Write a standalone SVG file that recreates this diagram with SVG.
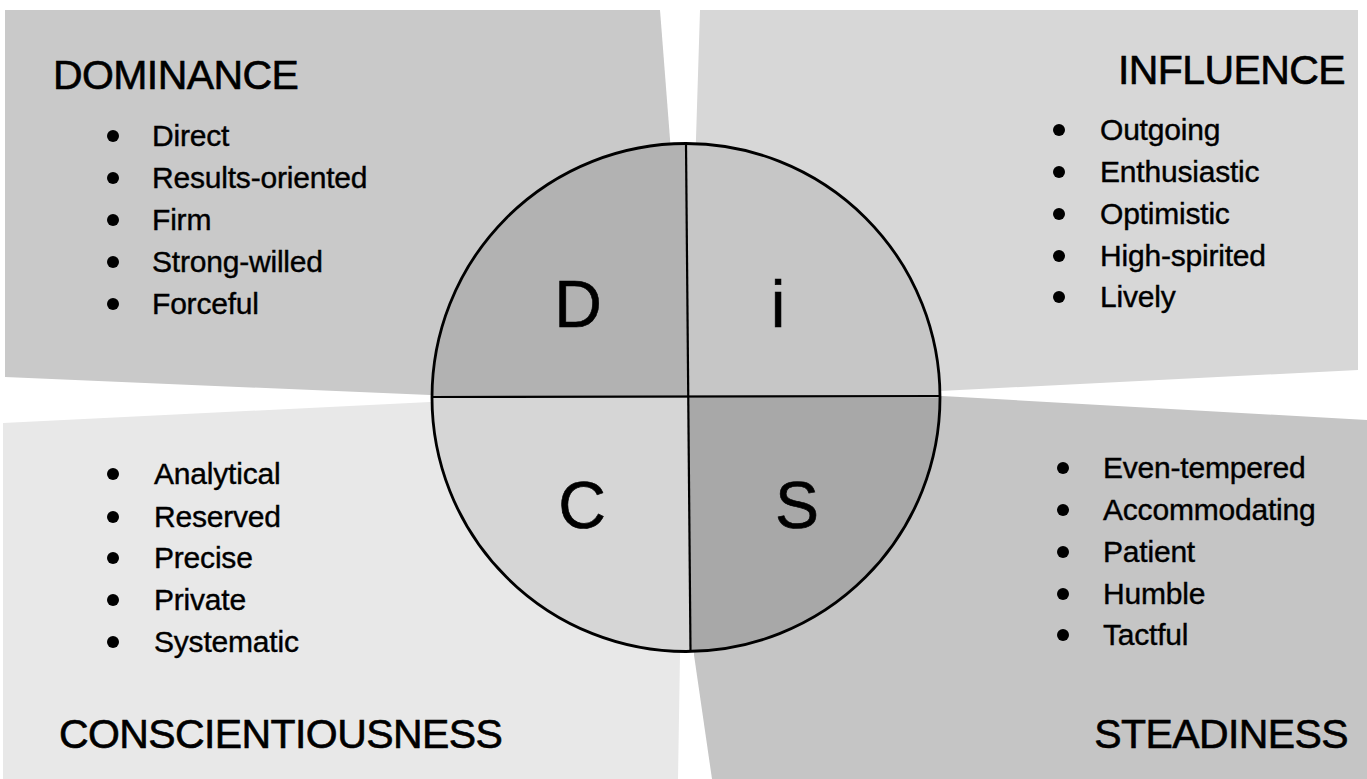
<svg xmlns="http://www.w3.org/2000/svg" width="1367" height="779" viewBox="0 0 1367 779">
<style>
  text { font-family: "Liberation Sans", Arial, Helvetica, sans-serif; fill: #000; stroke: #000; stroke-width: 0.4px; }
  .title { font-size: 41px; letter-spacing: -0.6px; stroke-width: 0.6px; }
  .item { font-size: 30px; letter-spacing: -0.2px; }
  .big { font-size: 66px; text-anchor: middle; stroke-width: 0.6px; }
  .dot { fill: #000; }
  .rim { fill: none; stroke: #000; stroke-width: 2.8; }
  .div { stroke: #000; stroke-width: 2.2; fill: none; }
</style>
<defs>
  <clipPath id="circ"><circle cx="686" cy="397.5" r="254"/></clipPath>
</defs>
<rect width="1367" height="779" fill="#ffffff"/>

<g id="bg-dominance"><polygon points="5,10 660,10 690,397 430,395 5,377" fill="#c9c9c9"/></g>
<g id="bg-influence"><polygon points="700,10 1358,10 1358,370 940,391 688,397" fill="#d7d7d7"/></g>
<g id="bg-conscientiousness"><polygon points="3,423 430,402 688,397 680,655 678,779 3,779" fill="#e8e8e8"/></g>
<g id="bg-steadiness"><polygon points="690,397 942,396 1367,420 1367,779 712,779 694,655" fill="#c5c5c5"/></g>

<g id="disc-circle">
  <g clip-path="url(#circ)">
    <polygon id="q-d" points="420,130 686,130 688,397.5 420,397.5" fill="#b2b2b2"/>
    <polygon id="q-i" points="686,130 960,130 960,397.5 688,397.5" fill="#c6c6c6"/>
    <polygon id="q-c" points="420,397.5 688,397.5 691,665 420,665" fill="#d6d6d6"/>
    <polygon id="q-s" points="688,397.5 960,397.5 960,665 691,665" fill="#a8a8a8"/>
  </g>
  <circle class="rim" cx="686" cy="397.5" r="254"/>
</g>

<g id="connectors">
  <line class="div" x1="686" y1="143.5" x2="690.5" y2="651.5"/>
  <line class="div" x1="432" y1="397" x2="940" y2="396"/>
</g>

<g id="letter-d"><text class="big" x="578" y="327">D</text></g>
<g id="letter-i"><text class="big" x="778" y="327">i</text></g>
<g id="letter-c"><text class="big" x="582" y="528">C</text></g>
<g id="letter-s"><text class="big" x="797" y="528">S</text></g>

<g id="dominance">
  <text class="title" x="53" y="89">DOMINANCE</text>
  <circle class="dot" cx="113" cy="136" r="6"/><text class="item" x="152" y="146">Direct</text>
  <circle class="dot" cx="113" cy="178" r="6"/><text class="item" x="152" y="188">Results-oriented</text>
  <circle class="dot" cx="113" cy="220" r="6"/><text class="item" x="152" y="230">Firm</text>
  <circle class="dot" cx="113" cy="262" r="6"/><text class="item" x="152" y="272">Strong-willed</text>
  <circle class="dot" cx="113" cy="304" r="6"/><text class="item" x="152" y="314">Forceful</text>
</g>

<g id="influence">
  <text class="title" x="1345" y="84" text-anchor="end">INFLUENCE</text>
  <circle class="dot" cx="1059" cy="130" r="6"/><text class="item" x="1100" y="140">Outgoing</text>
  <circle class="dot" cx="1059" cy="172" r="6"/><text class="item" x="1100" y="182">Enthusiastic</text>
  <circle class="dot" cx="1059" cy="214" r="6"/><text class="item" x="1100" y="224">Optimistic</text>
  <circle class="dot" cx="1059" cy="256" r="6"/><text class="item" x="1100" y="266">High-spirited</text>
  <circle class="dot" cx="1059" cy="297" r="6"/><text class="item" x="1100" y="307">Lively</text>
</g>

<g id="conscientiousness">
  <circle class="dot" cx="113" cy="474" r="6"/><text class="item" x="154" y="484">Analytical</text>
  <circle class="dot" cx="113" cy="517" r="6"/><text class="item" x="154" y="527">Reserved</text>
  <circle class="dot" cx="113" cy="558" r="6"/><text class="item" x="154" y="568">Precise</text>
  <circle class="dot" cx="113" cy="600" r="6"/><text class="item" x="154" y="610">Private</text>
  <circle class="dot" cx="113" cy="642" r="6"/><text class="item" x="154" y="652">Systematic</text>
  <text class="title" x="59" y="748">CONSCIENTIOUSNESS</text>
</g>

<g id="steadiness">
  <circle class="dot" cx="1063" cy="468" r="6"/><text class="item" x="1103" y="478">Even-tempered</text>
  <circle class="dot" cx="1063" cy="510" r="6"/><text class="item" x="1103" y="520">Accommodating</text>
  <circle class="dot" cx="1063" cy="552" r="6"/><text class="item" x="1103" y="562">Patient</text>
  <circle class="dot" cx="1063" cy="594" r="6"/><text class="item" x="1103" y="604">Humble</text>
  <circle class="dot" cx="1063" cy="635" r="6"/><text class="item" x="1103" y="645">Tactful</text>
  <text class="title" x="1348" y="748" text-anchor="end">STEADINESS</text>
</g>
</svg>
